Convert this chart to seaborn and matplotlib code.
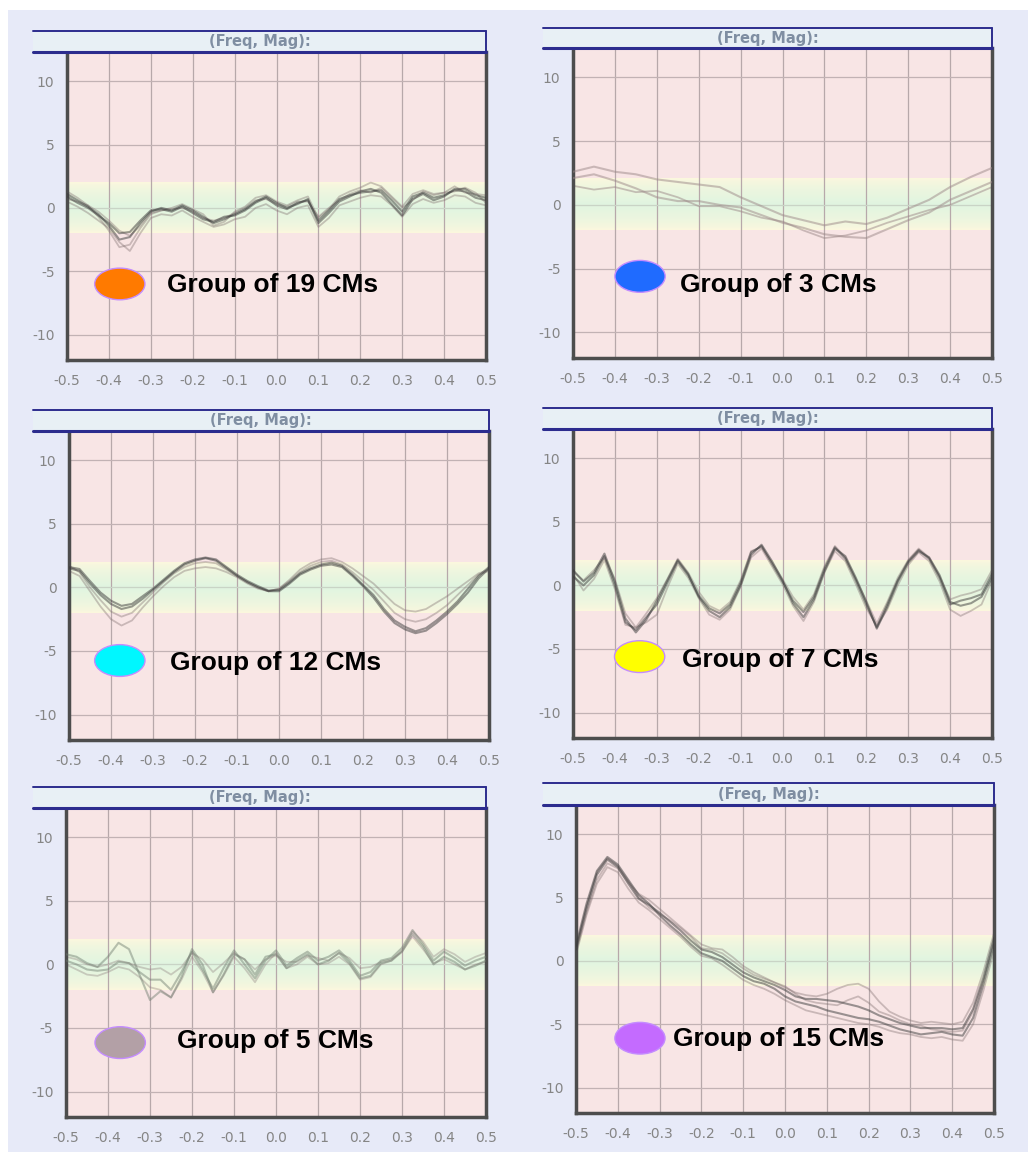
import numpy as np
import pandas as pd
import matplotlib
matplotlib.use("Agg")
import matplotlib.pyplot as plt
from matplotlib.patches import Ellipse, Rectangle
from matplotlib.lines import Line2D
import seaborn as sns

# seaborn theme first, then the font list
sns.set_theme(style="white")
plt.rcParams['font.family'] = ['DejaVu Sans']

# ---------------- data ----------------
# sample grid of the frequency axis
freq_41 = np.round(np.linspace(-0.5, 0.5, 41), 3)
freq_21 = np.round(np.linspace(-0.5, 0.5, 21), 3)

x_ticks = [-0.5, -0.4, -0.3, -0.2, -0.1, 0.0, 0.1, 0.2, 0.3, 0.4, 0.5]
x_tick_labels = ["-0.5", "-0.4", "-0.3", "-0.2", "-0.1", "0.0", "0.1", "0.2", "0.3", "0.4", "0.5"]
y_ticks = [-10, -5, 0, 5, 10]
y_tick_labels = ["-10", "-5", "0", "5", "10"]

group_sizes = [19, 3, 12, 7, 5, 15]
group_colors = ["#ff7a00", "#1f6bff", "#00f7ff", "#ffff00", "#b3a0a6", "#c46bff"]

# group of 19
p1_a = [0.9, 0.4, 0.0, -0.6, -1.2, -2.0, -1.9, -1.0, -0.2, -0.1, -0.3, 0.1, -0.4, -0.9, -1.1, -0.7, -0.6, -0.2, 0.4, 0.8, 0.2,
        -0.1, 0.4, 0.6, -1.0, -0.2, 0.7, 1.0, 1.2, 1.3, 1.4, 0.6, -0.3, 0.9, 1.2, 0.8, 1.0, 1.4, 1.3, 0.8, 0.6]
p1_b = [1.1, 0.6, 0.1, -0.5, -1.4, -2.5, -2.3, -1.2, -0.3, 0.0, -0.2, 0.2, -0.2, -0.7, -1.2, -0.9, -0.5, -0.1, 0.5, 0.9, 0.4,
        0.0, 0.3, 0.7, -1.2, -0.4, 0.5, 0.9, 1.3, 1.5, 1.2, 0.3, -0.6, 0.7, 1.1, 0.6, 0.9, 1.5, 1.5, 1.0, 0.8]
p1_c = [1.3, 0.8, 0.2, -0.7, -1.8, -3.1, -2.9, -1.6, -0.5, -0.2, 0.0, 0.3, -0.1, -0.5, -1.4, -1.1, -0.3, 0.1, 0.8, 1.0, 0.5,
        0.2, 0.6, 0.9, -0.8, -0.1, 0.9, 1.3, 1.6, 2.0, 1.7, 0.9, 0.1, 1.1, 1.4, 1.1, 1.2, 1.7, 1.2, 1.1, 1.0]
p1_d = [0.5, 0.1, -0.4, -1.0, -1.6, -2.7, -3.4, -2.0, -0.8, -0.5, -0.6, -0.2, -0.7, -1.1, -1.5, -1.3, -0.9, -0.7, 0.0, 0.3, -0.2,
        -0.5, 0.0, 0.2, -1.5, -0.8, 0.2, 0.5, 0.8, 1.0, 0.9, 0.2, -0.7, 0.3, 0.7, 0.4, 0.6, 1.0, 0.9, 0.4, 0.2]
p1_e = [0.7, 0.5, 0.2, -0.3, -1.0, -1.8, -2.2, -1.4, -0.4, -0.2, -0.1, 0.0, -0.3, -0.8, -1.0, -0.8, -0.4, 0.0, 0.6, 0.7, 0.3,
        0.1, 0.5, 0.5, -0.7, 0.0, 0.6, 1.1, 1.4, 1.2, 1.6, 0.8, 0.0, 0.6, 1.3, 1.0, 1.2, 1.3, 1.6, 1.2, 0.4]

# group of 3
p2_a = [2.6, 3.0, 2.6, 2.4, 2.0, 1.8, 1.6, 1.4, 0.6, -0.1, -0.8, -1.2, -1.6, -1.3, -1.5, -1.0, -0.3, 0.4, 1.4, 2.2, 2.9]
p2_b = [2.1, 2.4, 1.9, 1.3, 0.6, 0.3, 0.3, 0.0, -0.2, -0.8, -1.4, -1.8, -2.3, -2.5, -2.6, -1.9, -1.2, -0.6, 0.4, 1.1, 1.8]
p2_c = [1.5, 1.2, 1.4, 1.0, 1.1, 0.6, -0.1, -0.1, -0.5, -1.0, -1.3, -2.0, -2.6, -2.4, -2.0, -1.4, -0.9, -0.4, 0.0, 0.7, 1.4]

# group of 12
p3_a = [1.6, 1.45, 0.5, -0.4, -1.05, -1.45, -1.3, -0.7, -0.1, 0.6, 1.3, 1.9, 2.2, 2.35, 2.2, 1.6, 1.0, 0.5, 0.1, -0.25, -0.2,
        0.4, 1.1, 1.5, 1.8, 1.95, 1.7, 1.0, 0.2, -0.6, -1.7, -2.6, -3.1, -3.45, -3.2, -2.6, -1.9, -1.1, -0.1, 0.9, 1.6]
p3_b = [1.5, 1.3, 0.3, -0.6, -1.3, -1.7, -1.5, -0.9, -0.2, 0.5, 1.2, 1.8, 2.1, 2.3, 2.1, 1.5, 0.9, 0.4, 0.0, -0.3, -0.3,
        0.3, 1.0, 1.4, 1.7, 1.8, 1.6, 0.9, 0.1, -0.8, -1.9, -2.8, -3.3, -3.6, -3.4, -2.8, -2.1, -1.3, -0.4, 0.7, 1.5]
p3_c = [1.3, 0.9, -0.3, -1.5, -2.5, -3.0, -2.6, -1.6, -0.7, 0.1, 0.8, 1.3, 1.5, 1.6, 1.5, 1.2, 0.8, 0.3, -0.1, -0.3, -0.1,
        0.6, 1.4, 1.9, 2.2, 2.3, 2.0, 1.5, 0.9, 0.3, -0.5, -1.3, -1.8, -1.9, -1.7, -1.2, -0.7, -0.1, 0.5, 1.1, 1.4]
p3_d = [1.7, 1.2, 0.0, -1.0, -1.9, -2.3, -2.0, -1.2, -0.4, 0.4, 1.1, 1.6, 1.9, 2.0, 1.9, 1.4, 0.9, 0.4, 0.0, -0.3, -0.1,
        0.5, 1.2, 1.7, 2.0, 2.1, 1.8, 1.2, 0.5, -0.2, -1.1, -2.0, -2.5, -2.7, -2.5, -2.0, -1.4, -0.6, 0.2, 1.0, 1.3]

# group of 7
p4_a = [0.7, 0.0, 0.8, 2.3, 0.0, -2.9, -3.5, -2.5, -1.5, 0.2, 1.9, 0.8, -0.8, -1.8, -2.2, -1.5, 0.2, 2.6, 3.1, 1.7, 0.3,
        -1.2, -2.1, -0.9, 1.3, 3.0, 2.1, 0.4, -1.5, -3.3, -1.5, 0.4, 1.9, 2.8, 2.1, 0.6, -1.5, -1.2, -1.0, -0.7, 0.9]
p4_b = [1.2, 0.3, 1.0, 2.5, 0.3, -2.6, -3.7, -2.7, -1.2, 0.4, 2.0, 0.9, -0.9, -2.0, -2.5, -1.7, 0.0, 2.4, 3.2, 1.9, 0.4,
        -1.4, -2.5, -1.1, 1.1, 2.9, 2.3, 0.6, -1.3, -3.4, -1.7, 0.3, 1.8, 2.7, 2.2, 0.8, -1.3, -1.6, -1.4, -0.9, 0.6]
p4_c = [0.9, -0.4, 0.5, 2.0, -0.3, -3.1, -3.3, -2.9, -2.3, -0.2, 1.7, 0.6, -1.0, -2.3, -2.7, -1.9, -0.1, 2.2, 2.9, 1.5, 0.1,
        -1.6, -2.8, -1.3, 1.0, 2.7, 1.9, 0.1, -1.8, -3.2, -1.9, 0.0, 1.6, 2.6, 1.9, 0.3, -1.9, -2.4, -2.0, -1.5, 0.4]
p4_d = [1.1, 0.4, 1.2, 2.2, 0.5, -2.2, -3.3, -2.2, -1.0, 0.5, 2.1, 1.0, -0.5, -1.6, -2.0, -1.3, 0.4, 2.7, 3.0, 1.8, 0.5,
        -0.9, -1.9, -0.7, 1.5, 3.1, 2.2, 0.5, -1.2, -3.0, -1.3, 0.6, 2.0, 2.9, 2.2, 0.7, -1.1, -0.8, -0.6, -0.3, 1.2]

# group of 5
p5_a = [0.3, 0.0, -0.4, -0.5, -0.4, 0.2, 0.1, -0.6, -1.2, -1.2, -2.0, -0.6, 1.0, -0.4, -1.9, -0.3, 1.1, 0.0, -1.1, 0.3, 1.1,
        -0.1, 0.5, 1.0, 0.3, 0.6, 1.1, 0.3, -0.9, -0.6, 0.3, 0.5, 1.3, 2.7, 1.6, 0.3, 1.0, 0.5, -0.1, 0.3, 0.6]
p5_b = [0.8, 0.6, 0.1, -0.2, 0.6, 1.7, 1.2, -0.8, -2.8, -2.1, -2.6, -1.0, 1.2, 0.0, -2.2, -0.8, 0.8, 0.4, -0.8, 0.6, 0.8,
        -0.3, 0.3, 0.8, 0.0, 0.3, 0.9, 0.1, -1.1, -0.9, 0.1, 0.3, 1.0, 2.4, 1.4, 0.0, 0.6, 0.2, -0.4, -0.1, 0.3]
p5_c = [0.6, 0.4, 0.0, -0.2, 0.0, 0.3, 0.1, -0.2, -0.4, -0.3, -0.8, -0.2, 0.9, 0.4, -0.6, 0.1, 0.9, 0.4, -0.4, 0.4, 0.7,
        0.2, 0.2, 0.7, 0.5, 0.3, 0.9, 0.5, -0.3, -0.2, 0.2, 0.4, 1.0, 2.2, 1.2, 0.1, 0.4, 0.0, -0.4, 0.0, 0.2]
p5_d = [0.0, -0.4, -0.8, -0.9, -0.6, -0.2, -0.4, -1.0, -1.8, -2.0, -2.6, -1.2, 0.6, -0.6, -2.2, -0.9, 0.6, -0.3, -1.4, 0.0, 0.9,
        -0.3, 0.0, 0.6, 0.0, 0.1, 0.6, 0.0, -1.2, -1.0, 0.0, 0.3, 1.1, 2.6, 1.8, 0.6, 1.2, 0.8, 0.2, 0.6, 0.9]

# group of 15
p6_a = [0.9, 4.1, 6.8, 8.0, 7.4, 6.1, 4.9, 4.4, 3.8, 3.1, 2.4, 1.6, 0.9, 0.7, 0.3, -0.3, -0.9, -1.3, -1.6, -1.9, -2.3,
        -2.8, -3.0, -3.0, -3.1, -3.2, -3.4, -3.6, -3.9, -4.3, -4.6, -4.9, -5.1, -5.3, -5.3, -5.3, -5.4, -5.3, -3.8, -1.3, 1.8]
p6_b = [1.2, 4.5, 7.1, 8.2, 7.6, 6.4, 5.2, 4.5, 3.6, 2.8, 2.1, 1.3, 0.6, 0.3, 0.0, -0.6, -1.2, -1.6, -1.8, -2.2, -2.8,
        -3.2, -3.4, -3.6, -3.9, -4.1, -4.3, -4.5, -4.6, -4.8, -5.1, -5.4, -5.6, -5.8, -5.7, -5.6, -5.8, -5.9, -4.5, -1.8, 1.3]
p6_c = [0.7, 3.8, 6.4, 7.7, 7.3, 6.2, 5.3, 4.8, 4.1, 3.4, 2.7, 2.0, 1.3, 1.0, 0.9, 0.3, -0.4, -0.9, -1.3, -1.7, -2.1,
        -2.5, -2.7, -2.8, -2.6, -2.2, -1.9, -1.8, -2.2, -3.2, -4.0, -4.4, -4.7, -4.9, -4.8, -4.9, -5.0, -4.8, -3.3, -0.8, 2.2]
p6_d = [0.5, 3.6, 6.1, 7.4, 7.0, 5.7, 4.6, 4.0, 3.3, 2.6, 1.9, 1.1, 0.4, 0.2, -0.3, -0.9, -1.5, -1.9, -2.2, -2.6, -3.1,
        -3.5, -3.9, -4.1, -4.3, -4.5, -4.7, -4.9, -5.0, -5.2, -5.5, -5.7, -5.8, -6.0, -6.1, -6.0, -6.2, -6.3, -5.0, -2.3, 0.8]
p6_e = [1.0, 4.3, 7.0, 8.1, 7.5, 6.3, 5.0, 4.2, 3.7, 3.2, 2.6, 1.9, 1.0, 0.9, 0.6, 0.0, -0.6, -1.1, -1.4, -1.7, -2.0,
        -2.6, -3.1, -3.3, -3.4, -3.5, -3.1, -2.8, -3.3, -4.0, -4.3, -4.7, -5.0, -5.1, -5.4, -5.5, -5.6, -5.5, -4.0, -1.5, 1.6]

panel_traces = [
    [p1_a, p1_b, p1_c, p1_d, p1_e],
    [p2_a, p2_b, p2_c],
    [p3_a, p3_b, p3_c, p3_d],
    [p4_a, p4_b, p4_c, p4_d],
    [p5_a, p5_b, p5_c, p5_d],
    [p6_a, p6_b, p6_c, p6_d, p6_e],
]

# ---------------- layout (pixels of a 1028 x 1152 picture) ----------------
W, H = 1028, 1152
axes_px = [(67, 52, 486, 360), (573, 48, 992, 358),
           (69, 431, 489, 740), (573, 429, 992, 738),
           (66, 808, 486, 1117), (576, 805, 994, 1113)]
header_px = [(33, 31, 486, 52), (543, 28, 992, 48),
             (33, 410, 489, 431), (543, 408, 992, 429),
             (33, 787, 486, 808), (543, 783, 994, 805)]
# marker / label positions in data units
marker_xy = [(-0.374, -6.0), (-0.34, -5.6), (-0.379, -5.75), (-0.341, -5.6), (-0.371, -6.15), (-0.347, -6.1)]
label_xy = [(-0.262, -6.05), (-0.245, -6.3), (-0.26, -5.95), (-0.239, -5.9), (-0.236, -6.05), (-0.269, -6.2)]
# trace colours: (dark colour, dark alpha, light colour, light alpha)
trace_style = [("#3a3a3a", 0.5, "#7d6c6c", 0.38),
               ("#9c8888", 0.5, "#9c8888", 0.5),
               ("#3a3a3a", 0.5, "#7d6c6c", 0.38),
               ("#3a3a3a", 0.5, "#7d6c6c", 0.38),
               ("#6d7a6d", 0.45, "#8a7878", 0.35),
               ("#3a3a3a", 0.5, "#7d6c6c", 0.38)]

pink = "#f8e5e5"
navy = "#2c2c8e"
frame = "#4d4d4d"

fig = plt.figure(figsize=(W / 100, H / 100), dpi=100, facecolor="white")
fig.add_artist(Rectangle((8 / W, 0), 1, 1 - 10 / H, transform=fig.transFigure,
                         facecolor="#e7eaf8", edgecolor="none", zorder=-5))

# gradient for the tolerance band (-2 .. 2)
t = np.linspace(-1, 1, 101)
w = (1 - np.abs(t))[:, None] ** 0.7
cream = np.array([0.99, 0.97, 0.87])
green = np.array([0.88, 0.96, 0.88])
band = (cream * (1 - w) + green * w)[:, None, :]

for i in range(6):
    l, tp, r, b = axes_px[i]
    ax = fig.add_axes([l / W, 1 - b / H, (r - l) / W, (b - tp) / H])
    ax.set_facecolor(pink)

    ax.imshow(band, extent=[-0.5, 0.5, -2, 2], aspect="auto", origin="lower",
              zorder=0.2, interpolation="bilinear")

    traces = panel_traces[i]
    grid = freq_41 if len(traces[0]) == 41 else freq_21
    df = pd.concat([pd.DataFrame({"freq": grid, "mag": tr, "trace": k})
                    for k, tr in enumerate(traces)], ignore_index=True)
    dark_c, dark_a, light_c, light_a = trace_style[i]
    light = df[df["trace"] >= 2]
    dark = df[df["trace"] < 2]
    sns.lineplot(data=light, x="freq", y="mag", units="trace", estimator=None,
                 color=light_c, alpha=light_a, lw=1.3, ax=ax, zorder=2)
    sns.lineplot(data=dark, x="freq", y="mag", units="trace", estimator=None,
                 color=dark_c, alpha=dark_a, lw=1.5, ax=ax, zorder=3)

    ax.set_xlim(-0.5, 0.5)
    ax.set_ylim(-12, 12.3)
    ax.set_xlabel("")
    ax.set_ylabel("")
    ax.set_xticks(x_ticks)
    ax.set_xticklabels(x_tick_labels)
    ax.set_yticks(y_ticks)
    ax.set_yticklabels(y_tick_labels)
    ax.tick_params(axis="both", length=0, labelsize=10, colors="#858585")
    ax.tick_params(axis="x", pad=10)
    ax.tick_params(axis="y", pad=9)

    # grid lines
    ax.set_axisbelow(True)
    for xv in x_ticks[1:-1]:
        ax.axvline(xv, color="#b7a8aa", lw=0.9, zorder=0.5)
    for yv in y_ticks:
        ax.axhline(yv, color="#c2b2b4" if yv != 0 else "#c9d4c6", lw=0.9, zorder=0.5)

    for side in ["left", "right", "bottom"]:
        ax.spines[side].set_color(frame)
        ax.spines[side].set_linewidth(2.5)
    ax.spines["top"].set_visible(False)

    # group marker and label
    mx, my = marker_xy[i]
    ax.add_patch(Ellipse((mx, my), width=0.12, height=2.5, facecolor=group_colors[i],
                         edgecolor="#c48cff", lw=1, zorder=5))
    lx, ly = label_xy[i]
    ax.text(lx, ly, f"Group of {group_sizes[i]} CMs", fontsize=19, fontweight="bold",
            family=["Liberation Sans", "DejaVu Sans"], va="center", ha="left",
            color="black", zorder=6)

    # header bar "(Freq, Mag):"
    x0, y0, x1, y1 = header_px[i]
    fx0, fx1 = x0 / W, x1 / W
    fy0, fy1 = 1 - y0 / H, 1 - y1 / H
    fig.add_artist(Rectangle((fx0, fy1), fx1 - fx0, fy0 - fy1, transform=fig.transFigure,
                             facecolor="#e8f0f5", edgecolor="none", zorder=3))
    fig.add_artist(Line2D([fx0, fx1], [fy0, fy0], transform=fig.transFigure, color=navy, lw=1.4, zorder=4))
    fig.add_artist(Line2D([fx1, fx1], [fy0, fy1], transform=fig.transFigure, color=navy, lw=1.4, zorder=4))
    fig.add_artist(Line2D([fx0, fx1], [fy1, fy1], transform=fig.transFigure, color=navy, lw=2.2, zorder=4))
    fig.text((x0 + x1) / 2 / W, 1 - (y0 + y1) / 2 / H, "(Freq, Mag):", fontsize=10.5,
             fontweight="bold", color="#7f8ea2", ha="center", va="center", zorder=5)

fig.savefig("out.png", dpi=100, facecolor=fig.get_facecolor())
